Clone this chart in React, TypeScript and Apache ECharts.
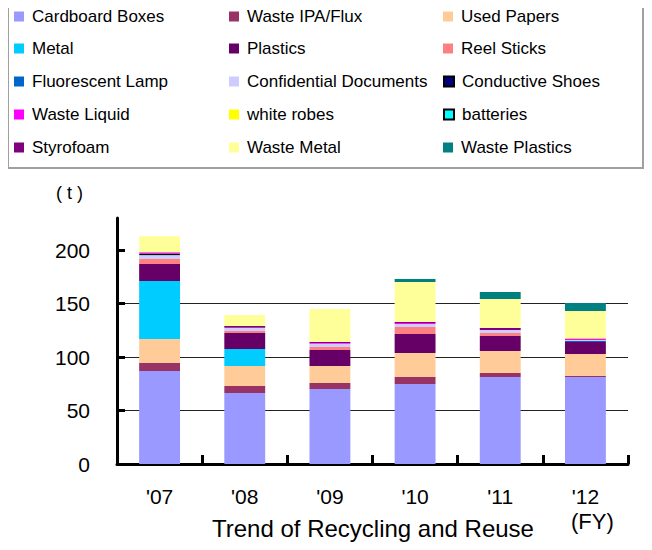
import React, { useEffect, useRef } from "react";
import * as echarts from "echarts";

const categories = ["'07", "'08", "'09", "'10", "'11", "'12"];
const yTicks = [0, 50, 100, 150, 200];

const cardboardBoxes = [86.9, 66.4, 70.1, 74.8, 81.3, 81.3];
const wasteIpaFlux = [7.5, 6.5, 5.6, 6.5, 3.7, 0.9];
const usedPapers = [22.4, 18.7, 15.9, 22.4, 20.6, 20.6];
const metal = [54.2, 15.9, null, null, null, null];
const plastics = [15.9, 14.9, 14.9, 17.8, 14.0, 11.2];
const reelSticks = [4.7, 1.9, 2.8, 6.5, 2.8, null];
const fluorescentLamp = [null, null, null, null, null, 1.0];
const confidentialDocuments = [3.7, 3.1, 3.1, 2.8, 2.8, 1.0];
const conductiveShoes = [1.5, null, null, null, null, null];
const wasteLiquid = [1.2, null, 0.8, 1.0, null, 1.4];
const whiteRobes = [null, null, null, null, null, 0.5];
const batteries = [null, null, null, null, null, null];
const styrofoam = [null, 1.6, 0.8, 0.9, 1.9, null];
const wasteMetal = [15.0, 10.3, 30.9, 37.4, 27.1, 25.2];
const wastePlastics = [null, null, null, 2.8, 6.5, 7.5];

const seriesDefs = [
  { name: "Cardboard Boxes", data: cardboardBoxes, color: "#9999FF" },
  { name: "Waste IPA/Flux", data: wasteIpaFlux, color: "#993366" },
  { name: "Used Papers", data: usedPapers, color: "#FFCC99" },
  { name: "Metal", data: metal, color: "#00CCFF" },
  { name: "Plastics", data: plastics, color: "#660066" },
  { name: "Reel Sticks", data: reelSticks, color: "#FF8080" },
  { name: "Fluorescent Lamp", data: fluorescentLamp, color: "#0066CC" },
  { name: "Confidential Documents", data: confidentialDocuments, color: "#CCCCFF" },
  { name: "Conductive Shoes", data: conductiveShoes, color: "#000080", border: true },
  { name: "Waste Liquid", data: wasteLiquid, color: "#FF00FF" },
  { name: "white robes", data: whiteRobes, color: "#FFFF00" },
  { name: "batteries", data: batteries, color: "#00FFFF", border: true },
  { name: "Styrofoam", data: styrofoam, color: "#800080" },
  { name: "Waste Metal", data: wasteMetal, color: "#FFFF99" },
  { name: "Waste Plastics", data: wastePlastics, color: "#008080" },
];

const FONT = "'Liberation Sans', Arial, sans-serif";
const colX = [14, 229, 443];
const rowY = [8, 40, 73, 106, 139];

export default function App() {
  const ref = useRef<HTMLDivElement>(null);
  useEffect(() => {
    if (!ref.current) return;
    const chart = echarts.init(ref.current, null, { renderer: "svg" });
    const legends = seriesDefs.map((s, i) => ({
      show: true,
      left: colX[i % 3],
      top: rowY[Math.floor(i / 3)],
      padding: 0,
      itemWidth: 10,
      itemHeight: 10,
      icon: "rect",
      selectedMode: false,
      data: [
        s.border
          ? { name: s.name, itemStyle: { color: s.color, borderColor: "#000", borderWidth: 2 } }
          : { name: s.name },
      ],
      textStyle: { fontFamily: FONT, fontSize: 17, color: "#000", padding: [0, 0, 0, 3] },
    }));
    chart.setOption({
      animation: false,
      backgroundColor: "#fff",
      legend: legends,
      graphic: [
        {
          type: "rect",
          shape: { x: 8, y: 1, width: 635, height: 167 },
          style: { fill: "none", stroke: "#A0A0A0", lineWidth: 2 },
          z: -1,
        },
        {
          type: "text",
          left: 56,
          top: 184,
          style: { text: "( t )", fontFamily: FONT, fontSize: 18, fill: "#000" },
        },
        {
          type: "text",
          left: 571,
          top: 510,
          style: { text: "(FY)", fontFamily: FONT, fontSize: 22, fill: "#000" },
        },
        {
          type: "text",
          left: 212,
          top: 516,
          style: { text: "Trend of Recycling and Reuse", fontFamily: FONT, fontSize: 24, fill: "#000" },
        },
      ],
      grid: { left: 117, right: 24, top: 218, bottom: 86, containLabel: false },
      xAxis: {
        type: "category",
        data: categories,
        axisLine: { lineStyle: { color: "#000", width: 3 } },
        axisTick: { show: true, inside: true, length: 9, lineStyle: { color: "#000", width: 3 } },
        axisLabel: { fontFamily: FONT, fontSize: 21, color: "#000", margin: 22 },
        splitLine: { show: false },
      },
      yAxis: {
        type: "value",
        min: 0,
        max: 230,
        interval: 50,
        axisLine: { show: true, lineStyle: { color: "#000", width: 3 } },
        axisTick: {
          show: true,
          inside: true,
          length: 8,
          customValues: yTicks,
          lineStyle: { color: "#000", width: 3 },
        },
        axisLabel: {
          fontFamily: FONT,
          fontSize: 21,
          color: "#000",
          margin: 27,
          customValues: yTicks,
        },
        splitLine: { show: true, showMinLine: false, showMaxLine: false, lineStyle: { color: "#222", width: 1 } },
      },
      series: seriesDefs.map((s) => ({
        name: s.name,
        type: "bar",
        stack: "total",
        barWidth: "48%",
        data: s.data,
        itemStyle: s.border
          ? { color: s.color, borderColor: "#000", borderWidth: 1 }
          : { color: s.color },
        emphasis: { disabled: true },
      })),
    });
    return () => chart.dispose();
  }, []);
  return <div ref={ref} style={{ width: 652, height: 550, margin: -8 }} />;
}
